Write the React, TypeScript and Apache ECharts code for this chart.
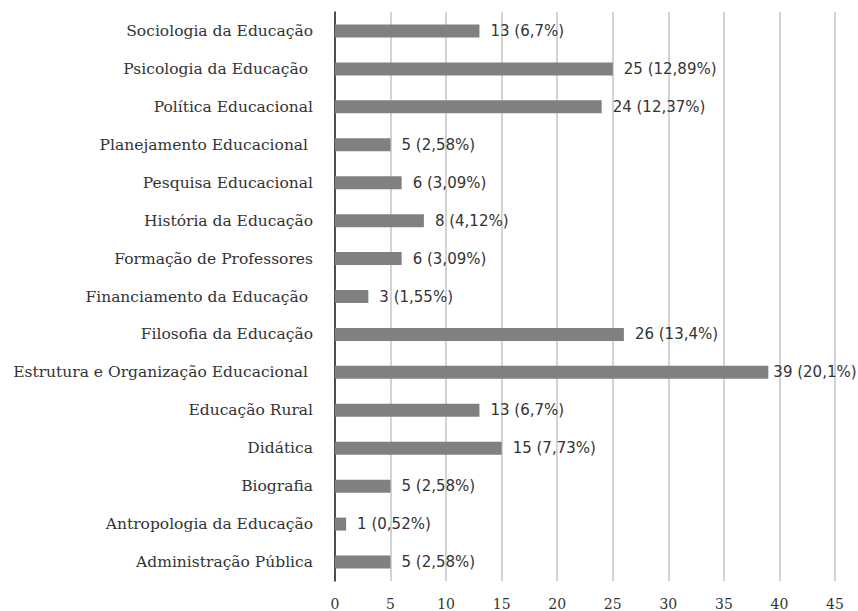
import React, { useEffect, useRef } from "react";
import * as echarts from "echarts";

const categories = [
  "Administração Pública",
  "Antropologia da Educação",
  "Biografia",
  "Didática",
  "Educação Rural",
  "Estrutura e Organização Educacional ",
  "Filosofia da Educação",
  "Financiamento da Educação ",
  "Formação de Professores",
  "História da Educação",
  "Pesquisa Educacional",
  "Planejamento Educacional ",
  "Política Educacional",
  "Psicologia da Educação ",
  "Sociologia da Educação",
];
const values = [5, 1, 5, 15, 13, 39, 26, 3, 6, 8, 6, 5, 24, 25, 13];
const percents = [
  "2,58%", "0,52%", "2,58%", "7,73%", "6,7%", "20,1%", "13,4%", "1,55%",
  "3,09%", "4,12%", "3,09%", "2,58%", "12,37%", "12,89%", "6,7%",
];
const xTicks = [0, 5, 10, 15, 20, 25, 30, 35, 40, 45];

export default function App() {
  const ref = useRef<HTMLDivElement>(null);
  useEffect(() => {
    document.body.style.margin = "0";
    const chart = echarts.init(ref.current!, undefined, { renderer: "svg" });
    chart.setOption({
      animation: false,
      backgroundColor: "#ffffff",
      grid: { left: 335, top: 12, width: 500, height: 569, containLabel: false },
      xAxis: {
        type: "value",
        min: xTicks[0],
        max: xTicks[xTicks.length - 1],
        interval: 5,
        axisLine: { show: false },
        axisTick: { show: false },
        splitLine: { show: true, lineStyle: { color: "#c4c4c4", width: 1.5 } },
        axisLabel: {
          margin: 16,
          color: "#333333",
          fontFamily: "DejaVu Serif",
          fontSize: 14,
        },
      },
      yAxis: {
        type: "category",
        data: categories,
        axisLine: { show: true, lineStyle: { color: "#222222", width: 1.5 } },
        axisTick: { show: false },
        axisLabel: {
          margin: 22,
          color: "#333333",
          fontFamily: "DejaVu Serif",
          fontSize: 15.5,
        },
      },
      series: [
        {
          type: "bar",
          barWidth: 13,
          itemStyle: { color: "#808080" },
          data: values.map((v) => ({
            value: v,
            label: { distance: v === 39 ? 5 : 11 },
          })),
          label: {
            show: true,
            position: "right",
            color: "#333333",
            fontFamily: "DejaVu Sans",
            fontSize: 15,
            formatter: (p: any) => `${p.value} (${percents[p.dataIndex]})`,
          },
        },
      ],
    });
    return () => chart.dispose();
  }, []);
  return <div ref={ref} style={{ width: 858, height: 611 }} />;
}
